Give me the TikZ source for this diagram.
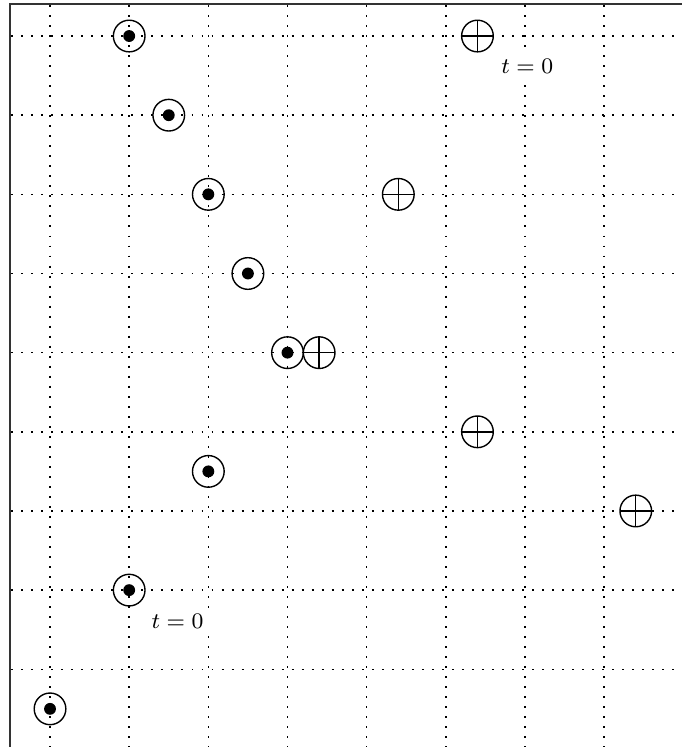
\documentclass[tikz,border=0pt]{standalone}
\usetikzlibrary{calc}
\begin{document}
\begin{tikzpicture}[
  gridline/.style={dash pattern=on 0.7pt off 2.9pt, line width=0.5pt},
  frame/.style={line width=0.7pt, black!80},
  odot/.style={circle, draw, line width=0.5pt, minimum size=0.4cm, inner sep=0pt,
    path picture={\fill (path picture bounding box.center) circle (0.075);}},
  oplus/.style={circle, draw, line width=0.5pt, minimum size=0.4cm, inner sep=0pt,
    path picture={\draw[line width=0.5pt] (path picture bounding box.north) -- (path picture bounding box.south)
      (path picture bounding box.west) -- (path picture bounding box.east);}},
  lbl/.style={font=\footnotesize, inner sep=2pt, fill=white}
]
\useasboundingbox (-0.632,-8.982) rectangle (7.985,0.455);
% grid
\foreach \x in {0,...,7} \draw[gridline] (\x,0.39) -- (\x,-8.982);
\foreach \y in {0,...,8} \draw[gridline] (-0.49,-\y) -- (7.985,-\y);
% frame
\draw[frame] (-0.5,-8.982) -- (-0.5,0.4) -- (7.985,0.4);
% circled dots
\node[odot] (d1) at (1,0) {};
\node[odot] (d2) at (1.5,-1) {};
\node[odot] (d3) at (2,-2) {};
\node[odot] (d4) at (2.5,-3) {};
\node[odot] (d5) at (3,-4) {};
\node[odot] (d6) at (2,-5.5) {};
\node[odot] (d7) at (1,-7) {};
\node[odot] (d8) at (0,-8.5) {};
% crossed circles
\node[oplus] (p1) at (5.4,0) {};
\node[oplus] (p2) at (4.4,-2) {};
\node[oplus] (p3) at (3.4,-4) {};
\node[oplus] (p4) at (5.4,-5) {};
\node[oplus] (p5) at (7.4,-6) {};
% labels
\node[lbl] (t1) at ($(p1)+(0.63,-0.38)$) {$t=0$};
\node[lbl] (t2) at ($(d7)+(0.61,-0.4)$) {$t=0$};
\end{tikzpicture}
\end{document}
